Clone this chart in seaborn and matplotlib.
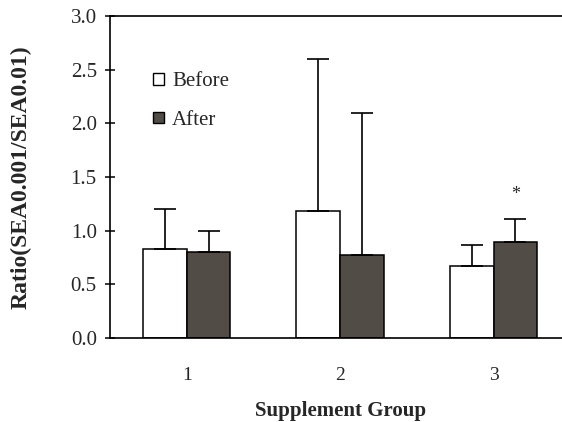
import matplotlib
matplotlib.use("Agg")
import matplotlib.pyplot as plt
import seaborn as sns
import pandas as pd
import numpy as np
from matplotlib.patches import Patch

groups = ["1", "2", "3"]
before_vals = [0.83, 1.18, 0.67]
after_vals = [0.80, 0.77, 0.89]
before_err = [0.37, 1.42, 0.20]
after_err = [0.20, 1.33, 0.22]
series = ["Before", "After"]
yticks = [0.0, 0.5, 1.0, 1.5, 2.0, 2.5, 3.0]

sns.set_theme(style="white")
plt.rcParams['font.family'] = ['Liberation Serif', 'DejaVu Serif']

df = pd.DataFrame({
    "group": groups * 2,
    "series": [series[0]] * 3 + [series[1]] * 3,
    "value": before_vals + after_vals,
})

colors = {"Before": "white", "After": "#524c47"}

fig = plt.figure(figsize=(5.62, 4.22), dpi=100)
ax = fig.add_axes([0.1957, 0.199, 0.819, 0.763])

width = 0.57
sns.barplot(data=df, x="group", y="value", hue="series", order=groups,
            hue_order=series, palette=colors, edgecolor="black", linewidth=1.1,
            width=width, errorbar=None, ax=ax, legend=False, saturation=1)

idx = np.arange(len(groups))
off = width / 4
ax.errorbar(idx - off, before_vals, yerr=[np.zeros(3), before_err], fmt="none",
            ecolor="black", elinewidth=1.2, capsize=8, capthick=1.2, zorder=3)
ax.errorbar(idx + off, after_vals, yerr=[np.zeros(3), after_err], fmt="none",
            ecolor="black", elinewidth=1.2, capsize=8, capthick=1.2, zorder=3)
ax.text(2 + off, 1.26, "*", ha="center", va="bottom", fontsize=13)

ax.set_xlim(-0.5, 2.5)
ax.set_ylim(0, 3.0)
ax.set_yticks(yticks)
ax.set_yticklabels([f"{t:.1f}" for t in yticks])
ax.set_xticks(idx)
ax.set_xticks([-0.5, 0.5, 1.5, 2.5], minor=True)
ax.tick_params(axis="x", which="major", length=0, labelsize=14, pad=21)
ax.tick_params(axis="x", which="minor", length=5, width=1.1, direction="out", color="black")
ax.tick_params(axis="y", which="major", length=7, width=1.1, direction="inout",
               labelsize=15, color="black", left=True, pad=6)

for s in ax.spines.values():
    s.set_color("black")
    s.set_linewidth(1.2)

ax.set_xlabel("Supplement Group", fontsize=15, fontweight="bold")
ax.set_ylabel("Ratio(SEA0.001/SEA0.01)", fontsize=17, fontweight="bold")
ax.xaxis.set_label_coords(0.5, -0.195)
ax.yaxis.set_label_coords(-0.17, 0.5)

handles = [Patch(facecolor="white", edgecolor="black", linewidth=1.0),
           Patch(facecolor=colors["After"], edgecolor="black", linewidth=1.0)]
ax.legend(handles, series, loc="upper left", bbox_to_anchor=(0.094, 0.826),
          frameon=False, fontsize=15, handlelength=0.5, handleheight=0.5,
          handletextpad=0.4, labelspacing=0.95, borderpad=0, borderaxespad=0)

fig.savefig("out.png", dpi=100)
